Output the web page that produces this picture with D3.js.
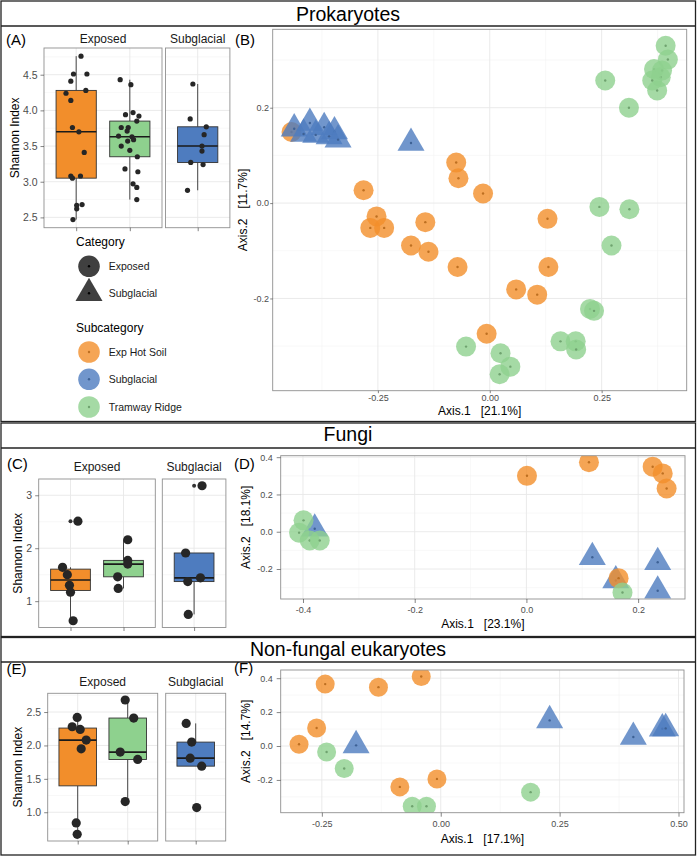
<!DOCTYPE html>
<html>
<head>
<meta charset="utf-8">
<script src="https://cdn.jsdelivr.net/npm/d3@7"></script>
<style>
body{margin:0;background:#fff;}
</style>
</head>
<body>
<script>
var font='"Liberation Sans", Arial, Helvetica, sans-serif';

// ---- data ----
var sectionTitles=['Prokaryotes','Fungi','Non-fungal eukaryotes'];
var facetNames=['Exposed','Subglacial'];
var catNames=['Exposed','Subglacial'];
var subNames=['Exp Hot Soil','Subglacial','Tramway Ridge'];
var subColors=['#F28E2B','#4E7CBF','#8ED18E'];

// Shannon index: [value, jitter (category units)]
var prokHot=[[4.76,.09],[4.51,-.05],[4.51,.20],[4.41,-.10],[4.28,.18],[4.24,-.19],[4.14,-.10],[3.76,-.07],[3.70,.05],[3.41,.15],[3.08,-.10],[3.08,.08],[3.05,-.07],[2.68,.11],[2.67,.01],[2.62,.01],[2.47,-.06]];
var prokTram=[[4.43,-.18],[4.36,.02],[3.97,.06],[3.94,-.08],[3.92,.17],[3.85,.13],[3.76,-.16],[3.76,-.03],[3.71,-.05],[3.64,-.21],[3.63,.04],[3.59,.07],[3.57,-.04],[3.50,-.16],[3.44,0],[3.35,.14],[3.18,-.09],[3.14,.15],[2.97,.06],[2.92,.13],[2.75,.13]];
var prokSub=[[4.37,-.09],[3.88,-.14],[3.77,.16],[3.66,.12],[3.50,.08],[3.43,.08],[3.27,-.13],[3.24,.10],[2.88,-.19]];

var fungHot=[[2.51,.14],[1.64,-.15],[1.50,-.06],[1.30,-.02],[1.17,0],[0.63,.05]];
var fungTram=[[2.16,.08],[1.77,.08],[1.70,.08],[1.46,-.11],[1.24,-.10]];
var fungSub=[[3.18,.15],[1.91,-.16],[1.44,.12],[1.37,-.12],[0.75,-.11]];

var eukHot=[[2.42,-.01],[2.28,-.11],[2.24,.05],[2.08,.17],[1.95,.07],[0.84,-.03],[0.67,-.01]];
var eukTram=[[2.68,-.05],[2.41,.12],[1.90,-.15],[1.79,.20],[1.16,-.05]];
var eukSub=[[2.33,-.19],[2.05,-.08],[1.81,-.11],[1.69,.12],[1.07,.02]];

// ordination coordinates [Axis.1, Axis.2]
var ordBHot=[[-0.443,0.149],[-0.282,0.027],[-0.075,0.085],[-0.070,0.052],[-0.015,0.020],[0.129,-0.033],[-0.253,-0.028],[-0.267,-0.052],[-0.236,-0.052],[-0.144,-0.040],[-0.176,-0.089],[-0.137,-0.102],[-0.072,-0.134],[0.131,-0.134],[0.059,-0.181],[0.106,-0.192],[-0.007,-0.274]];
var ordBSub=[[-0.437,0.156],[-0.402,0.168],[-0.370,0.159],[-0.347,0.150],[-0.416,0.145],[-0.389,0.143],[-0.359,0.140],[-0.339,0.133],[-0.176,0.126]];
var ordBTram=[[0.393,0.330],[0.398,0.301],[0.367,0.281],[0.385,0.278],[0.382,0.264],[0.363,0.257],[0.374,0.236],[0.258,0.257],[0.311,0.200],[0.245,-0.008],[0.312,-0.013],[0.272,-0.089],[0.224,-0.222],[0.233,-0.226],[0.158,-0.290],[0.192,-0.290],[0.193,-0.307],[-0.053,-0.301],[0.024,-0.315],[0.046,-0.343],[0.022,-0.359]];

var ordDHot=[[0.001,0.300],[0.112,0.373],[0.226,0.349],[0.244,0.313],[0.251,0.232],[0.165,-0.249]];
var ordDSub=[[-0.379,0.016],[0.118,-0.137],[0.235,-0.164],[0.235,-0.317],[0.160,-0.262]];
var ordDTram=[[-0.399,0.061],[-0.407,-0.005],[-0.388,-0.047],[-0.370,-0.047],[0.172,-0.326]];

var ordFHot=[[-0.243,0.365],[-0.131,0.347],[-0.041,0.410],[-0.261,0.106],[-0.298,0.010],[-0.086,-0.241],[-0.008,-0.194]];
var ordFSub=[[-0.178,0.004],[0.229,0.151],[0.405,0.053],[0.466,0.102],[0.473,0.104]];
var ordFTram=[[-0.240,-0.035],[-0.203,-0.133],[-0.060,-0.355],[-0.030,-0.355],[0.189,-0.272]];

var ticksA=[2.5,3.0,3.5,4.0,4.5], ticksC=[1,2,3], ticksE=[1.0,1.5,2.0,2.5];
var ticksBx=[-0.25,0,0.25], ticksBy=[-0.2,0,0.2];
var ticksDx=[-0.4,-0.2,0,0.2], ticksDy=[-0.2,0,0.2,0.4];
var ticksFx=[-0.25,0,0.25,0.5], ticksFy=[-0.2,0,0.2,0.4];
var axisTitlesB=['Axis.1   [21.1%]','Axis.2   [11.7%]'];
var axisTitlesD=['Axis.1   [23.1%]','Axis.2   [18.1%]'];
var axisTitlesF=['Axis.1   [17.1%]','Axis.2   [14.7%]'];

// ---- drawing ----
var svg=d3.select('body').append('svg').attr('width',697).attr('height',856)
    .style('font-family',font);
var defs=svg.append('defs');
var tri=d3.symbol().type(d3.symbolTriangle).size(316);

function styleAxis(g,fs){
    g.attr('font-family',font);
    g.select('.domain').remove();
    g.selectAll('line').attr('stroke','#333').attr('stroke-width',0.6);
    g.selectAll('text').attr('fill','#4d4d4d').attr('font-size',fs);
}
function minorOf(ticks,dom){
    var step=ticks[1]-ticks[0];
    return d3.range(ticks[0]-step/2,ticks[ticks.length-1]+step,step)
        .filter(function(v){return v>Math.min(dom[0],dom[1])&&v<Math.max(dom[0],dom[1]);});
}
function padded(vals){
    var e=d3.extent(vals),p=(e[1]-e[0])*0.05;
    return [e[0]-p,e[1]+p];
}

// section frames
var frames=[[1,26,421.5,21],[423,448,636.5,441],[637.5,662,855,656]];
frames.forEach(function(f,i){
    svg.append('rect').attr('x',1).attr('y',f[0]).attr('width',694.5).attr('height',f[2]-f[0])
        .attr('fill','none').attr('stroke','#222').attr('stroke-width',1.3);
    svg.append('line').attr('x1',1).attr('x2',695.5).attr('y1',f[1]).attr('y2',f[1])
        .attr('stroke','#222').attr('stroke-width',1.3);
    svg.append('text').attr('x',348).attr('y',f[3]).attr('text-anchor','middle')
        .attr('font-size',19.5).attr('fill','#000').text(sectionTitles[i]);
});

// data order in box panels: hot, tram, sub -> colour index in subColors
var boxColour=[0,2,1];

function boxPanel(c){
    var all=[].concat(c.data[0],c.data[1],c.data[2]).map(function(d){return d[0];});
    var y=d3.scaleLinear().domain(padded(all)).range([c.y1,c.y0]);
    var groups=[[0,1],[2]];
    svg.append('text').attr('x',c.lab[0]).attr('y',c.lab[1]).attr('font-size',15).text(c.label);
    c.facets.forEach(function(f,fi){
        var n=groups[fi].length;
        var x=d3.scaleLinear().domain([0.4,n+0.6]).range([f[0],f[1]]);
        var g=svg.append('g');
        g.append('rect').attr('x',f[0]).attr('y',c.y0).attr('width',f[1]-f[0]).attr('height',c.y1-c.y0).attr('fill','#fff');
        g.selectAll('.mn').data(minorOf(c.ticks,y.domain())).enter().append('line')
            .attr('x1',f[0]).attr('x2',f[1]).attr('y1',y).attr('y2',y)
            .attr('stroke','#f3f3f3').attr('stroke-width',0.6);
        g.selectAll('.mj').data(c.ticks).enter().append('line')
            .attr('x1',f[0]).attr('x2',f[1]).attr('y1',y).attr('y2',y)
            .attr('stroke','#e8e8e8').attr('stroke-width',0.9);
        g.selectAll('.vx').data(d3.range(1,n+1)).enter().append('line')
            .attr('x1',x).attr('x2',x).attr('y1',c.y0).attr('y2',c.y1)
            .attr('stroke','#e8e8e8').attr('stroke-width',0.9);
        groups[fi].forEach(function(gi,k){
            var pos=k+1, vals=c.data[gi].map(function(d){return d[0];}).sort(d3.ascending);
            var q1=d3.quantile(vals,0.25),med=d3.quantile(vals,0.5),q3=d3.quantile(vals,0.75),iqr=q3-q1;
            var inside=vals.filter(function(v){return v>=q1-1.5*iqr&&v<=q3+1.5*iqr;});
            var lo=d3.min(inside),hi=d3.max(inside);
            var outl=vals.filter(function(v){return v<q1-1.5*iqr||v>q3+1.5*iqr;});
            var cx=x(pos),hw=x(pos+0.375)-cx;
            g.append('line').attr('x1',cx).attr('x2',cx).attr('y1',y(q3)).attr('y2',y(hi)).attr('stroke','#333').attr('stroke-width',0.9);
            g.append('line').attr('x1',cx).attr('x2',cx).attr('y1',y(q1)).attr('y2',y(lo)).attr('stroke','#333').attr('stroke-width',0.9);
            g.append('rect').attr('x',cx-hw).attr('y',y(q3)).attr('width',2*hw).attr('height',y(q1)-y(q3))
                .attr('fill',subColors[boxColour[gi]]).attr('stroke','#333').attr('stroke-width',0.9);
            g.append('line').attr('x1',cx-hw).attr('x2',cx+hw).attr('y1',y(med)).attr('y2',y(med)).attr('stroke','#1a1a1a').attr('stroke-width',1.6);
            g.selectAll('.ol'+gi).data(outl).enter().append('circle')
                .attr('cx',cx).attr('cy',y).attr('r',2).attr('fill','#333');
            g.selectAll('.pt'+gi).data(c.data[gi]).enter().append('circle')
                .attr('cx',function(d){return x(pos+d[1]);}).attr('cy',function(d){return y(d[0]);})
                .attr('r',c.r).attr('fill','#262626');
        });
        g.append('rect').attr('x',f[0]).attr('y',c.y0).attr('width',f[1]-f[0]).attr('height',c.y1-c.y0)
            .attr('fill','none').attr('stroke','#909090').attr('stroke-width',0.9);
        var ax=svg.append('g').attr('transform','translate(0,'+c.y1+')')
            .call(d3.axisBottom(x).tickValues(d3.range(1,n+1)).tickFormat('').tickSize(3.5));
        styleAxis(ax,10.5);
        svg.append('text').attr('x',(f[0]+f[1])/2).attr('y',c.stripY).attr('text-anchor','middle')
            .attr('font-size',12).attr('fill','#1a1a1a').text(facetNames[fi]);
        if(fi===0){
            var ay=svg.append('g').attr('transform','translate('+f[0]+',0)')
                .call(d3.axisLeft(y).tickValues(c.ticks).tickSize(3.5).tickPadding(3)
                .tickFormat(function(d){return d.toFixed(c.dec);}));
            styleAxis(ay,10.5);
        }
    });
    svg.append('text').attr('transform','translate('+c.titleX+','+((c.y0+c.y1)/2)+') rotate(-90)')
        .attr('text-anchor','middle').attr('font-size',12).text('Shannon Index');
}

function scatterPanel(c){
    var xs=[],ys=[];
    c.sets.forEach(function(s){s[1].forEach(function(d){xs.push(d[0]);ys.push(d[1]);});});
    var x=d3.scaleLinear().domain(padded(xs)).range([c.x0,c.x1]);
    var y=d3.scaleLinear().domain(padded(ys)).range([c.y1,c.y0]);
    var id='clip'+c.label.replace(/\W/g,'');
    defs.append('clipPath').attr('id',id).append('rect')
        .attr('x',c.x0).attr('y',c.y0).attr('width',c.x1-c.x0).attr('height',c.y1-c.y0);
    var g=svg.append('g');
    g.append('rect').attr('x',c.x0).attr('y',c.y0).attr('width',c.x1-c.x0).attr('height',c.y1-c.y0).attr('fill','#fff');
    g.selectAll('.mx').data(minorOf(c.tx,x.domain())).enter().append('line')
        .attr('x1',x).attr('x2',x).attr('y1',c.y0).attr('y2',c.y1).attr('stroke','#f3f3f3').attr('stroke-width',0.6);
    g.selectAll('.my').data(minorOf(c.ty,y.domain())).enter().append('line')
        .attr('y1',y).attr('y2',y).attr('x1',c.x0).attr('x2',c.x1).attr('stroke','#f3f3f3').attr('stroke-width',0.6);
    g.selectAll('.jx').data(c.tx).enter().append('line')
        .attr('x1',x).attr('x2',x).attr('y1',c.y0).attr('y2',c.y1).attr('stroke','#e8e8e8').attr('stroke-width',0.9);
    g.selectAll('.jy').data(c.ty).enter().append('line')
        .attr('y1',y).attr('y2',y).attr('x1',c.x0).attr('x2',c.x1).attr('stroke','#e8e8e8').attr('stroke-width',0.9);
    var pg=g.append('g').attr('clip-path','url(#'+id+')');
    c.sets.forEach(function(s){
        var si=s[0],col=subColors[si],dark=d3.color(col).darker(0.7).formatHex();
        var sel=pg.selectAll('.p'+si).data(s[1]).enter().append('g')
            .attr('transform',function(d){return 'translate('+x(d[0])+','+y(d[1])+')';});
        if(si===1){
            sel.append('path').attr('d',tri).attr('fill',col).attr('fill-opacity',0.8);
        }else{
            sel.append('circle').attr('r',c.r).attr('fill',col).attr('fill-opacity',0.8);
        }
        sel.append('circle').attr('r',1.2).attr('fill',dark);
    });
    g.append('rect').attr('x',c.x0).attr('y',c.y0).attr('width',c.x1-c.x0).attr('height',c.y1-c.y0)
        .attr('fill','none').attr('stroke','#909090').attr('stroke-width',0.9);
    var ax=svg.append('g').attr('transform','translate(0,'+c.y1+')')
        .call(d3.axisBottom(x).tickValues(c.tx).tickSize(c.ts).tickPadding(c.tp)
        .tickFormat(function(d){return d.toFixed(c.dx);}));
    styleAxis(ax,9);
    var ay=svg.append('g').attr('transform','translate('+c.x0+',0)')
        .call(d3.axisLeft(y).tickValues(c.ty).tickSize(c.ts).tickPadding(c.tp)
        .tickFormat(function(d){return d.toFixed(1);}));
    styleAxis(ay,9);
    svg.append('text').attr('x',(c.x0+c.x1)/2).attr('y',c.xtY).attr('text-anchor','middle')
        .attr('font-size',12).style('white-space','pre').text(c.titles[0]);
    svg.append('text').attr('transform','translate('+c.ytX+','+((c.y0+c.y1)/2)+') rotate(-90)')
        .attr('text-anchor','middle').attr('font-size',12).style('white-space','pre').text(c.titles[1]);
    svg.append('text').attr('x',c.lab[0]).attr('y',c.lab[1]).attr('font-size',15).text(c.label);
}

boxPanel({label:'(A)',lab:[6,45],data:[prokHot,prokTram,prokSub],facets:[[44,162],[165.5,229.9]],
    y0:48,y1:227.7,ticks:ticksA,dec:1,r:2.6,stripY:43,titleX:18.5});
boxPanel({label:'(C)',lab:[7,469],data:[fungHot,fungTram,fungSub],facets:[[38.7,155.3],[162.3,225.9]],
    y0:479,y1:627.5,ticks:ticksC,dec:0,r:4.6,stripY:471,titleX:21.5});
boxPanel({label:'(E)',lab:[6.5,674],data:[eukHot,eukTram,eukSub],facets:[[47.7,157.7],[165.7,225.7]],
    y0:693.3,y1:841,ticks:ticksE,dec:1,r:4.6,stripY:686,titleX:21.5});

scatterPanel({label:'(B)',lab:[235,45],sets:[[0,ordBHot],[1,ordBSub],[2,ordBTram]],
    x0:272.7,x1:686.7,y0:29.3,y1:390.7,tx:ticksBx,ty:ticksBy,dx:2,r:10,ts:2.5,tp:1.2,
    titles:axisTitlesB,xtY:414.5,ytX:247});
scatterPanel({label:'(D)',lab:[234,469],sets:[[1,ordDSub],[0,ordDHot],[2,ordDTram]],
    x0:280.7,x1:685,y0:455.7,y1:599,tx:ticksDx,ty:ticksDy,dx:1,r:10,ts:4,tp:4,
    titles:axisTitlesD,xtY:628,ytX:250});
scatterPanel({label:'(F)',lab:[234,673],sets:[[0,ordFHot],[1,ordFSub],[2,ordFTram]],
    x0:280.7,x1:684,y0:670,y1:812.7,tx:ticksFx,ty:ticksFy,dx:2,r:9.5,ts:4,tp:4,
    titles:axisTitlesF,xtY:842.5,ytX:250});

// legend
var lg=svg.append('g');
lg.append('text').attr('x',76).attr('y',246).attr('font-size',12).text('Category');
var catY=[266.3,293.3];
catNames.forEach(function(n,i){
    var k=lg.append('g').attr('transform','translate(89,'+catY[i]+')');
    if(i===0) k.append('circle').attr('r',10.8).attr('fill','#000').attr('fill-opacity',0.75);
    else k.append('path').attr('d',tri).attr('fill','#000').attr('fill-opacity',0.75);
    k.append('circle').attr('r',1.2).attr('fill','#000');
    lg.append('text').attr('x',108.7).attr('y',catY[i]+3.8).attr('font-size',10.5).attr('fill','#1a1a1a').text(n);
});
lg.append('text').attr('x',76).attr('y',332).attr('font-size',12).text('Subcategory');
var subY=[352,379.3,407];
subNames.forEach(function(n,i){
    lg.append('circle').attr('cx',89).attr('cy',subY[i]).attr('r',10.8).attr('fill',subColors[i]).attr('fill-opacity',0.8);
    lg.append('circle').attr('cx',89).attr('cy',subY[i]).attr('r',1.2).attr('fill',d3.color(subColors[i]).darker(0.7).formatHex());
    lg.append('text').attr('x',108.7).attr('y',subY[i]+3.8).attr('font-size',10.5).attr('fill','#1a1a1a').text(n);
});
</script>
</body>
</html>
